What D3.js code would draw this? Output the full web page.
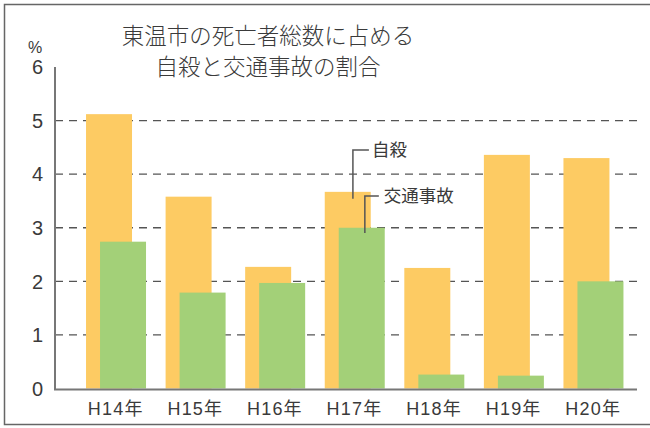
<!DOCTYPE html>
<html><head><meta charset="utf-8">
<script src="https://cdn.jsdelivr.net/npm/d3@7"></script>
<style>body{margin:0;background:#fff}svg{display:block}</style>
</head><body>
<svg id="c" width="650" height="428"></svg>
<script>
const categories = ["H14年","H15年","H16年","H17年","H18年","H19年","H20年"];
const suicide = [5.12, 3.58, 2.27, 3.67, 2.25, 4.36, 4.30];
const traffic = [2.74, 1.79, 1.97, 3.00, 0.26, 0.24, 2.00];
const yTicks = [0,1,2,3,4,5,6];
const titleLines = ["東温市の死亡者総数に占める","自殺と交通事故の割合"];
const seriesNames = ["自殺","交通事故"];

const svg = d3.select("#c");
const x = d3.scaleBand().domain(categories).range([76,633]).padding(0);
const y = d3.scaleLinear().domain([0,6]).range([388.5,67]);
const bw = x.bandwidth();
const barW = bw*0.578;
const orangeOff = bw*0.126, greenOff = bw*0.302;
const CJK = "'Noto Sans CJK JP','Noto Sans',sans-serif";
const LAT = "'Liberation Sans','Noto Sans CJK JP',sans-serif";

// frame
svg.append("rect").attr("x",4.5).attr("y",4.5).attr("width",660).attr("height",420)
  .attr("fill","none").attr("stroke","#666").attr("stroke-width",1.5);

// title
svg.append("g").selectAll("text").data(titleLines).join("text")
  .attr("x",268).attr("y",(d,i)=>44+i*31)
  .attr("text-anchor","middle").attr("font-family",CJK).attr("font-weight",300)
  .attr("font-size",22.5).attr("fill","#3a3a3a").text(d=>d);

// gridlines
svg.append("g").selectAll("line").data(yTicks.filter(t=>t>0&&t<6)).join("line")
  .attr("x1",55).attr("x2",637).attr("y1",d=>y(d)).attr("y2",d=>y(d))
  .attr("stroke","#555").attr("stroke-width",1.3).attr("stroke-dasharray","8,6");

// bars
svg.append("g").selectAll("rect").data(categories).join("rect")
  .attr("x",(d)=>x(d)+orangeOff).attr("width",barW)
  .attr("y",(d,i)=>y(suicide[i])).attr("height",(d,i)=>y(0)-y(suicide[i]))
  .attr("fill","#FDCB63");
svg.append("g").selectAll("rect").data(categories).join("rect")
  .attr("x",(d)=>x(d)+greenOff).attr("width",barW)
  .attr("y",(d,i)=>y(traffic[i])).attr("height",(d,i)=>y(0)-y(traffic[i]))
  .attr("fill","#A3D078");

// axes lines
svg.append("line").attr("x1",55).attr("x2",55).attr("y1",y(6)).attr("y2",y(0)+1)
  .attr("stroke","#777").attr("stroke-width",2);
svg.append("line").attr("x1",54).attr("x2",637).attr("y1",y(0)+1).attr("y2",y(0)+1)
  .attr("stroke","#777").attr("stroke-width",2);

// y tick labels
svg.append("g").selectAll("text").data(yTicks).join("text")
  .attr("x",43).attr("y",d=>y(d)).attr("dy","0.36em").attr("text-anchor","end")
  .attr("font-family",LAT).attr("font-size",20).attr("fill","#3a3a3a")
  .text(d=>d);
svg.append("text").attr("x",35).attr("y",53).attr("text-anchor","middle")
  .attr("font-family",LAT).attr("font-size",16).attr("fill","#3a3a3a").text("%");

// x labels
svg.append("g").selectAll("text").data(categories).join("text")
  .attr("x",d=>x(d)+bw/2).attr("y",415).attr("text-anchor","middle")
  .attr("font-family",LAT).attr("font-size",18)
  .attr("letter-spacing",1.2).attr("fill","#3a3a3a").text(d=>d);

// annotations
const c17 = categories[3], i17 = 3;
const ax1 = x(c17)+bw*0.48, ax2 = x(c17)+bw*0.63;
const ann = svg.append("g").attr("stroke","#555").attr("stroke-width",1.5).attr("fill","none");
ann.append("path").attr("d",`M${ax1},${y(suicide[i17]-0.13)}V150H${ax1+16}`);
ann.append("path").attr("d",`M${ax2},${y(traffic[i17]-0.1)}V196H${ax2+14}`);
svg.append("text").attr("x",ax1+19).attr("y",150).attr("dy","0.36em")
  .attr("font-family",CJK).attr("font-size",17.5).attr("fill","#3a3a3a").text(seriesNames[0]);
svg.append("text").attr("x",ax2+19).attr("y",196).attr("dy","0.36em")
  .attr("font-family",CJK).attr("font-size",17.5).attr("fill","#3a3a3a").text(seriesNames[1]);
</script>
</body></html>
